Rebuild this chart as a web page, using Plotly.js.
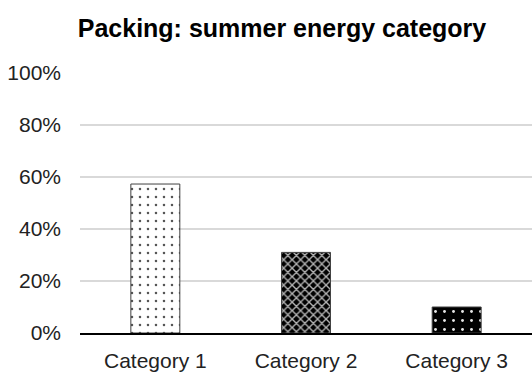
<!DOCTYPE html>
<html>
<head>
<meta charset="utf-8">
<script src="https://cdn.plot.ly/plotly-3.0.1.min.js"></script>
<style>html,body{margin:0;padding:0;background:#fff;}#chart{width:532px;height:372px;}</style>
</head>
<body>
<div id="chart"></div>
<script>
const categories = ["Category 1", "Category 2", "Category 3"];
const values = [0.573, 0.31, 0.10];
const yTickVals = [0, 0.2, 0.4, 0.6, 0.8, 1.0];
const yTickText = ["0%", "20%", "40%", "60%", "80%", "100%"];

const patternShapes = [".", "x", "."];
const patternFg = ["#555555", "#b4b4b4", "#e6e6e6"];
const patternBg = ["#ffffff", "#000000", "#000000"];
const patternSize = [8, 6, 9];
const patternSolidity = [0.08, 0.4, 0.08];

const traces = categories.map((c, i) => ({
  type: "bar",
  x: [c],
  y: [values[i]],
  width: 0.325,
  marker: {
    color: patternBg[i],
    line: {color: "#404040", width: 1},
    pattern: {
      shape: patternShapes[i],
      fgcolor: patternFg[i],
      bgcolor: patternBg[i],
      size: patternSize[i],
      solidity: patternSolidity[i],
      fillmode: "replace"
    }
  },
  hoverinfo: "none"
}));

const layout = {
  width: 532,
  height: 372,
  margin: {l: 80, r: 0, t: 73, b: 39, pad: 0},
  paper_bgcolor: "#ffffff",
  plot_bgcolor: "#ffffff",
  showlegend: false,
  barmode: "overlay",
  title: {
    text: "<b>Packing: summer energy category</b>",
    font: {family: "Liberation Sans, Arial, sans-serif", size: 25, color: "#000000"},
    x: 282 / 532,
    xanchor: "center",
    xref: "container",
    y: 1 - 28 / 372,
    yanchor: "middle",
    yref: "container"
  },
  xaxis: {
    type: "category",
    categoryorder: "array",
    categoryarray: categories,
    showgrid: false,
    showline: true,
    linecolor: "#000000",
    linewidth: 2,
    ticks: "",
    ticklabelstandoff: 8,
    tickfont: {family: "Liberation Sans, Arial, sans-serif", size: 21, color: "#222222"},
    fixedrange: true
  },
  yaxis: {
    range: [0, 1],
    tickvals: yTickVals,
    ticktext: yTickText,
    showgrid: true,
    gridcolor: "#d9d9d9",
    gridwidth: 1.5,
    zeroline: false,
    showline: false,
    ticks: "",
    ticklabelstandoff: 18,
    tickfont: {family: "Liberation Sans, Arial, sans-serif", size: 21, color: "#222222"},
    fixedrange: true
  }
};

Plotly.newPlot("chart", traces, layout, {displayModeBar: false, staticPlot: true});
</script>
</body>
</html>
